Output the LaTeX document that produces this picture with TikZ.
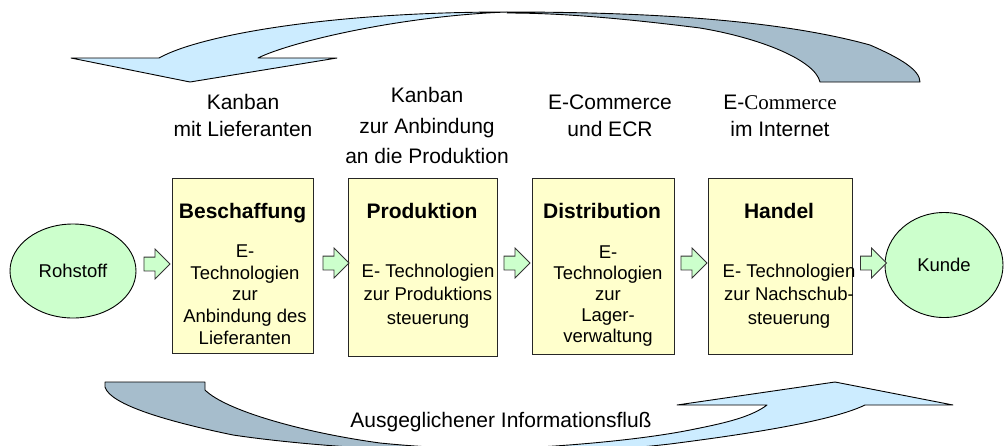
\documentclass[tikz,border=0pt]{standalone}
\usepackage{fontspec}
\setmainfont{Liberation Sans}
\newfontfamily\timesf{Liberation Serif}
\usetikzlibrary{shapes.geometric,shapes.arrows}
\definecolor{boxyellow}{RGB}{255,255,204}
\definecolor{lightgreen}{RGB}{204,255,204}
\definecolor{lightblue}{RGB}{204,236,255}
\definecolor{darkblue}{RGB}{166,189,204}
\begin{document}
\begin{tikzpicture}[x=1pt,y=-1pt,
  outline/.style={draw=black, line width=0.9pt, line join=round},
  stagebox/.style={draw=black!85, line width=1pt, fill=boxyellow, inner sep=0pt},
  endpoint/.style={ellipse, draw=black, line width=0.9pt, fill=lightgreen, inner sep=0pt, font=\fontsize{18.5}{22}\selectfont},
  flow/.style={single arrow, draw=black!80, line width=0.8pt, fill=lightgreen, minimum height=26pt, minimum width=29pt, inner xsep=0pt, inner ysep=6.5pt, single arrow head extend=8pt, single arrow tip angle=90},
  head/.style={font=\fontsize{21}{25}\selectfont\bfseries, inner sep=0pt, anchor=base},
  body/.style={align=center, inner sep=0pt, anchor=north},
  toplabel/.style={align=center, inner sep=0pt, anchor=north, font=\fontsize{21}{27}\selectfont},
]
\useasboundingbox (0,0) rectangle (1004,445);

% top curved arrow (back face, then front face)
\path[outline, fill=darkblue] (507,12) .. controls (650,12) and (780,20) .. (870,45) .. controls (900,58) and (920,70) .. (920,82) -- (820,82) .. controls (815,60) and (760,38) .. (700,28) .. controls (620,18) and (560,13) .. (507,13) -- cycle;
\path[outline, fill=lightblue] (258,58) -- (337,58) -- (190,82) -- (71,58) -- (159,58) .. controls (200,35) and (330,12) .. (507,12) .. controls (400,16) and (290,42) .. (258,58) -- cycle;

% bottom curved arrow
\path[outline, fill=darkblue] (105,382) -- (205,382) -- (205,390) .. controls (225,410) and (300,432) .. (380,443) .. controls (420,447) and (460,449) .. (495,449) -- (495,452) .. controls (400,452) and (300,445) .. (233,435) .. controls (170,422) and (110,405) .. (105,387) -- cycle;
\path[outline, fill=lightblue] (767,405) -- (677,405) -- (835,382) -- (953,405) -- (865,405) .. controls (830,422) and (740,435) .. (670,444) .. controls (600,452) and (540,453) .. (495,452) -- (495,449) .. controls (560,447) and (640,440) .. (690,430) .. controls (720,424) and (750,418) .. (767,405) -- cycle;

% labels above
\node[toplabel] (l1) at (243,94.5) {Kanban\\mit Lieferanten};
\node[toplabel, font=\fontsize{21}{30.5}\selectfont] (l2) at (427,87.5) {Kanban\\zur Anbindung\\an die Produktion};
\node[toplabel] (l3) at (610,94.5) {E-Commerce\\und ECR};
\node[toplabel] (l4) at (780,94.5) {E-{\timesf Commerce}\\im Internet};

% end points
\node[endpoint, minimum width=126pt, minimum height=94pt] (roh) at (73,271) {Rohstoff};
\node[endpoint, minimum width=118pt, minimum height=105pt] (kun) at (944,265) {Kunde};

% stage boxes
\node[stagebox, minimum width=141pt, minimum height=175pt] (b1) at (242.5,265.5) {};
\node[stagebox, minimum width=149pt, minimum height=178pt] (b2) at (422.5,267) {};
\node[stagebox, minimum width=142pt, minimum height=176pt] (b3) at (603,266) {};
\node[stagebox, minimum width=144pt, minimum height=176pt] (b4) at (780,266) {};

\node[head] (h1) at (242.5,218) {Beschaffung};
\node[head] (h2) at (422,218) {Produktion};
\node[head] (h3) at (602,218) {Distribution};
\node[head] (h4) at (779,218) {Handel};

\node[body, font=\fontsize{18.5}{21.75}\selectfont] (t1) at (245,244.5) {E-\\Technologien\\zur\\Anbindung des\\Lieferanten};
\node[body, font=\fontsize{18.5}{23.5}\selectfont] (t2) at (428,263.4) {E- Technologien\\zur Produktions\\steuerung};
\node[body, font=\fontsize{18.5}{21}\selectfont] (t3) at (608,245.4) {E-\\Technologien\\zur\\Lager-\\verwaltung};
\node[body, font=\fontsize{18.5}{23.5}\selectfont] (t4) at (789,263.4) {E- Technologien\\zur Nachschub-\\steuerung};

% flow arrows
\node[flow] (a1) at (153.5,264) {};
\node[flow] (a2) at (332.5,263) {};
\node[flow] (a3) at (513.5,263) {};
\node[flow] (a4) at (690.5,263) {};
\node[flow] (a5) at (870,263) {};

% bottom text
\node[inner sep=0pt, anchor=base, font=\fontsize{21}{25}\selectfont] (info) at (501,427) {Ausgeglichener Informationsflu\ss};
\end{tikzpicture}
\end{document}
